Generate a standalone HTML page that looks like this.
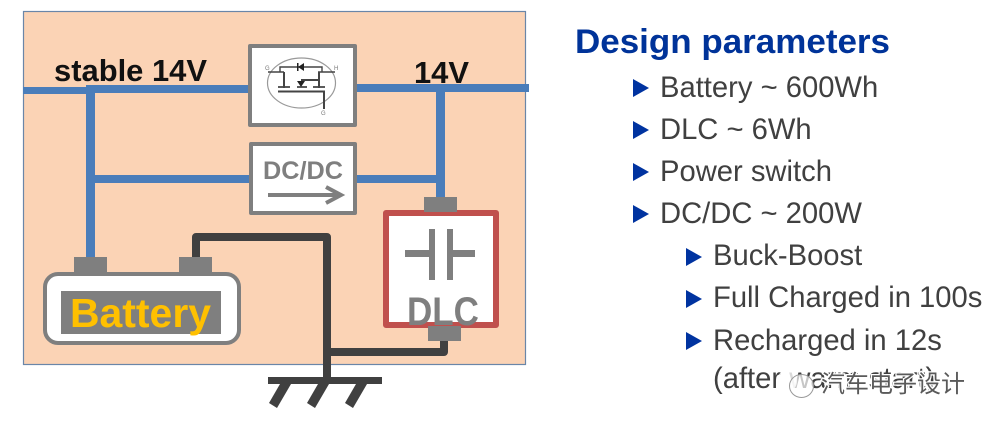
<!DOCTYPE html>
<html><head><meta charset="utf-8">
<style>html,body{margin:0;padding:0;background:#fff;width:997px;height:427px;overflow:hidden}svg{display:block}</style>
</head><body>
<svg width="997" height="427" viewBox="0 0 997 427" xmlns="http://www.w3.org/2000/svg">
<rect x="23.5" y="11.5" width="502" height="353" fill="#fbd3b5" stroke="#6a86a8" stroke-width="1.2"/>
<g fill="#4a7dba">
<rect x="23" y="87" width="68" height="7"/>
<rect x="88" y="85" width="162" height="8"/>
<rect x="355" y="84" width="174" height="8"/>
<rect x="86" y="85" width="9" height="175"/>
<rect x="92" y="175" width="158" height="8"/>
<rect x="355" y="175" width="85" height="8"/>
<rect x="436" y="85" width="9" height="114"/>
</g>
<!-- ground wiring -->
<g fill="none" stroke="#404040" stroke-width="8" stroke-linejoin="round">
<path d="M196 258V237H327V380"/>
<path d="M327 352H444V340"/>
<path d="M268 380.5H382" stroke-width="7"/>
</g>
<g fill="#404040">
<path d="M280 384H291L277 408L269 403Z"/>
<path d="M318 384H329L315 408L307 403Z"/>
<path d="M356 384H367L353 408L345 403Z"/>
</g>
<!-- switch -->
<rect x="250" y="46" width="105" height="79" fill="#fff" stroke="#7f7f7f" stroke-width="4" stroke-linejoin="round"/>
<g fill="none" stroke="#444">
<ellipse cx="301.500" cy="83" rx="34" ry="25" stroke="#999" stroke-width="1.2"/>
<path d="M268 72H284M318 72H335" stroke-width="1.4"/>
<path d="M280 72V67H322V72" stroke-width="1.4"/>
<path d="M284 72V88M319 72V88M301 80H319" stroke-width="2"/>
<path d="M278 87H290M297 87H307M313 87H325" stroke-width="1.8"/>
<path d="M278 91.500H325M324 91V109" stroke-width="2"/>
</g>
<path d="M304 63L298 67L304 71Z M297 81H305L301 87Z" fill="#222"/>
<rect x="297" y="63" width="1.500" height="8" fill="#222"/>
<text x="265" y="70" font-family="Liberation Sans" font-size="6" fill="#777">G</text>
<text x="334" y="70" font-family="Liberation Sans" font-size="6" fill="#777">H</text>
<text x="321" y="115" font-family="Liberation Sans" font-size="6" fill="#777">G</text>
<!-- DC/DC -->
<rect x="251" y="144" width="104" height="69" fill="#fff" stroke="#7f7f7f" stroke-width="4" stroke-linejoin="round"/>
<text x="263" y="179" font-family="Liberation Sans" font-weight="bold" font-size="25" fill="#7f7f7f" textLength="80" lengthAdjust="spacingAndGlyphs">DC/DC</text>
<path d="M268 195H341M326 187L341 195L326 203" fill="none" stroke="#7f7f7f" stroke-width="4"/>
<!-- Battery -->
<rect x="74" y="257" width="33" height="16" fill="#7f7f7f"/>
<rect x="179" y="257" width="33" height="16" fill="#7f7f7f"/>
<rect x="45" y="274" width="194" height="69" rx="13" fill="#fff" stroke="#7f7f7f" stroke-width="4"/>
<rect x="61" y="291" width="160" height="43" fill="#7f7f7f"/>
<text x="70" y="327" font-family="Liberation Sans" font-weight="bold" font-size="41" fill="#ffc000" textLength="141" lengthAdjust="spacingAndGlyphs">Battery</text>
<!-- DLC -->
<rect x="386" y="213" width="110" height="112" fill="#fff" stroke="#c0504d" stroke-width="6" stroke-linejoin="round"/>
<rect x="424" y="197" width="33" height="15" fill="#7f7f7f"/>
<rect x="429" y="229" width="6" height="51" fill="#7f7f7f"/>
<rect x="447" y="229" width="6" height="51" fill="#7f7f7f"/>
<rect x="405" y="250" width="26" height="7" fill="#7f7f7f"/>
<rect x="451" y="250" width="24" height="7" fill="#7f7f7f"/>
<text x="0" y="0" transform="translate(407 325) scale(0.875 1)" font-family="Liberation Sans" font-weight="bold" font-size="40" fill="#7f7f7f">DLC</text>
<rect x="428" y="326" width="33" height="15" fill="#7f7f7f"/>
<!-- labels -->
<text x="54" y="81" font-family="Liberation Sans" font-weight="bold" font-size="31" fill="#111" textLength="153" lengthAdjust="spacingAndGlyphs">stable 14V</text>
<text x="414" y="83" font-family="Liberation Sans" font-weight="bold" font-size="31" fill="#111" textLength="55" lengthAdjust="spacingAndGlyphs">14V</text>
<!-- right text -->
<text x="575" y="53" font-family="Liberation Sans" font-weight="bold" font-size="34" fill="#003399" textLength="315" lengthAdjust="spacingAndGlyphs">Design parameters</text>
<g fill="#0033a0">
<path d="M633 79L649 88L633 97Z"/>
<path d="M633 121L649 130L633 139Z"/>
<path d="M633 163L649 172L633 181Z"/>
<path d="M633 205L649 214L633 223Z"/>
<path d="M686 248L702 257L686 266Z"/>
<path d="M686 290L702 299L686 308Z"/>
<path d="M686 332L702 341L686 350Z"/>
</g>
<g font-family="Liberation Sans" font-size="29.200" fill="#404040">
<text x="660" y="97">Battery ~ 600Wh</text>
<text x="660" y="139">DLC ~ 6Wh</text>
<text x="660" y="181">Power switch</text>
<text x="660" y="223">DC/DC ~ 200W</text>
<text x="713" y="265">Buck-Boost</text>
<text x="713" y="307">Full Charged in 100s</text>
<text x="713" y="350">Recharged in 12s</text>
<text x="713" y="388">(after warm start)</text>
</g>
<!-- watermark -->
<ellipse cx="787" cy="381" rx="10" ry="11" fill="#fff" opacity=".8"/>
<ellipse cx="801.500" cy="386" rx="12" ry="11.500" fill="#fff" fill-opacity=".7" stroke="#999" stroke-width="1"/>
<text x="821" y="392" font-family="Noto Sans CJK SC, sans-serif" font-size="24" fill="#5a5a5a" stroke="#fff" stroke-width="2.500" paint-order="stroke" textLength="144" lengthAdjust="spacingAndGlyphs">汽车电子设计</text>
</svg>
</body></html>
